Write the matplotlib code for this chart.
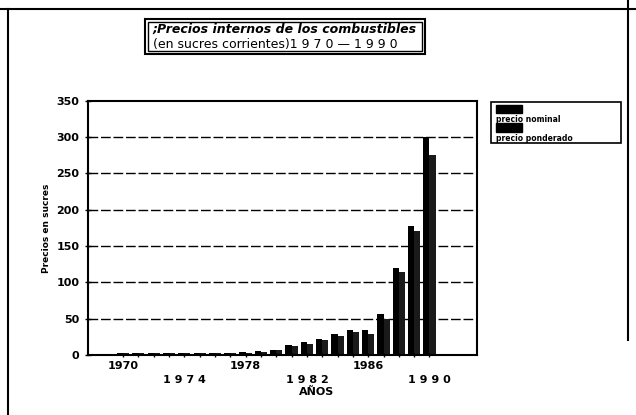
import matplotlib.pyplot as plt
import numpy as np
from matplotlib.lines import Line2D
from matplotlib.patches import Rectangle

years = list(range(1970, 1991))
nominal = [3, 3, 3, 3, 3, 3, 3, 3, 4, 5, 7, 14, 17, 22, 29, 34, 34, 56, 120, 178, 300]
weighted = [2.5, 2.5, 2.5, 2.5, 2.5, 2.5, 2.5, 2.5, 3, 4, 6, 12, 15, 20, 26, 31, 29, 50, 114, 170, 276]
yticks = [0, 50, 100, 150, 200, 250, 300, 350]
legend_labels = ["precio nominal", "precio ponderado"]

plt.rcParams["font.family"] = "DejaVu Sans"
fig = plt.figure(figsize=(6.36, 4.15), dpi=100)
ax = fig.add_axes([0.138, 0.145, 0.612, 0.612])

x = np.array(years)
w = 0.4
ax.bar(x - w / 2, nominal, width=w, color="black", linewidth=0)
ax.bar(x + w / 2, weighted, width=w, color="#1a1a1a", linewidth=0)

ax.set_xlim(1967.7, 1993.1)
ax.set_ylim(0, 350)
ax.set_yticks(yticks)
ax.set_yticklabels([str(v) for v in yticks], fontsize=8, fontweight="bold")
for v in yticks[1:-1]:
    ax.axhline(v, color="black", lw=1.0, ls=(0, (7, 2)), zorder=0)

ax.set_xticks(years)
ax.set_xticklabels([])
ax.tick_params(axis="x", length=3, width=1, direction="inout")
ax.tick_params(axis="y", length=5, width=1, direction="inout")
for i, yr in enumerate(years[::4]):
    off = -0.045 if i % 2 == 0 else -0.10
    ax.text(yr, off, " ".join(str(yr)) if i % 2 else str(yr),
            transform=ax.get_xaxis_transform(), ha="center", va="center",
            fontsize=8, fontweight="bold")
ax.text(1982.6, -0.148, "AÑOS", transform=ax.get_xaxis_transform(),
        ha="center", va="center", fontsize=8, fontweight="bold")
ax.set_ylabel("Precios en sucres", fontsize=6.5, fontweight="bold", labelpad=4)
for s in ax.spines.values():
    s.set_linewidth(1.5)

# title box
fig.patches.append(Rectangle((0.228, 0.87), 0.44, 0.085, transform=fig.transFigure,
                             fill=False, lw=1.5, ec="black"))
fig.patches.append(Rectangle((0.233, 0.878), 0.43, 0.069, transform=fig.transFigure,
                             fill=False, lw=1.0, ec="black"))
fig.text(0.24, 0.93, ";Precios internos de los combustibles", fontsize=9,
         style="italic", fontweight="bold", va="center", ha="left")
fig.text(0.24, 0.893, "(en sucres corrientes)1 9 7 0 — 1 9 9 0", fontsize=9,
         va="center", ha="left")

# legend box
fig.patches.append(Rectangle((0.772, 0.655), 0.205, 0.1, transform=fig.transFigure,
                             fill=False, lw=1.2, ec="black"))
fig.patches.append(Rectangle((0.78, 0.728), 0.04, 0.02, transform=fig.transFigure,
                             fc="black", ec="black"))
fig.text(0.78, 0.712, legend_labels[0], fontsize=5.5, fontweight="bold", va="center")
fig.patches.append(Rectangle((0.78, 0.683), 0.04, 0.02, transform=fig.transFigure,
                             fc="black", ec="black"))
fig.text(0.78, 0.667, legend_labels[1], fontsize=5.5, fontweight="bold", va="center")

# page frame lines
fig.add_artist(Line2D([0.0, 1.0], [0.978, 0.978], transform=fig.transFigure, color="black", lw=1.5))
fig.add_artist(Line2D([0.013, 0.013], [0.0, 0.978], transform=fig.transFigure, color="black", lw=1.5))
fig.add_artist(Line2D([0.987, 0.987], [0.18, 1.0], transform=fig.transFigure, color="black", lw=1.5))

fig.savefig("out.png", dpi=100)
